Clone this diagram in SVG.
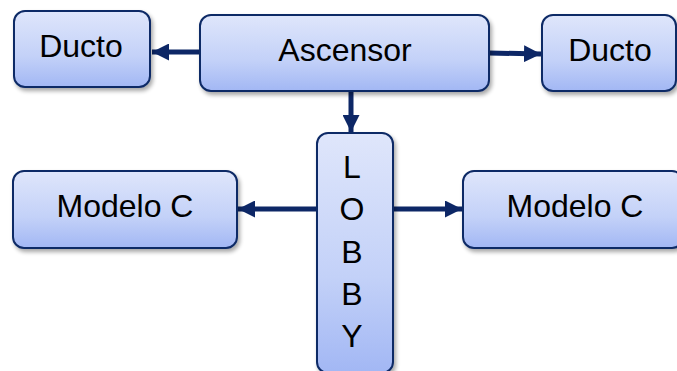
<svg xmlns="http://www.w3.org/2000/svg" width="677" height="371" viewBox="0 0 677 371">
  <defs>
    <linearGradient id="boxFill" x1="0" y1="0" x2="0" y2="1">
      <stop offset="0" stop-color="#dfe6fb"/>
      <stop offset="0.6" stop-color="#c3d1f8"/>
      <stop offset="1" stop-color="#a2b7f4"/>
    </linearGradient>
    <filter id="shadow" x="-10%" y="-10%" width="130%" height="130%">
      <feGaussianBlur in="SourceAlpha" stdDeviation="2"/>
      <feOffset dx="2" dy="3" result="b"/>
      <feComponentTransfer><feFuncA type="linear" slope="0.35"/></feComponentTransfer>
      <feMerge><feMergeNode/><feMergeNode in="SourceGraphic"/></feMerge>
    </filter>
    <marker id="arrow" viewBox="0 0 10 10" refX="10" refY="5" markerWidth="3.4" markerHeight="3.4" markerUnits="strokeWidth" orient="auto">
      <path d="M0,0 L10,5 L0,10 z" fill="#0d2766"/>
    </marker>
  </defs>
  <style>
    .box { fill: url(#boxFill); stroke: #0f2a66; stroke-width: 2; filter: url(#shadow); }
    .lbl { font-family: "Liberation Sans", Arial, sans-serif; font-size: 32px; fill: #000; text-anchor: middle; }
    .conn { stroke: #0d2766; stroke-width: 5; fill: none; marker-end: url(#arrow); }
  </style>

  <g id="connectors">
    <line class="conn" x1="199" y1="52" x2="152" y2="52"/>
    <line class="conn" x1="489" y1="53" x2="541" y2="54"/>
    <line class="conn" x1="351" y1="91" x2="351" y2="132"/>
    <line class="conn" x1="317" y1="209" x2="238" y2="209"/>
    <line class="conn" x1="393" y1="209" x2="462" y2="209"/>
  </g>

  <g id="ducto-left">
    <rect class="box" x="14" y="11" width="136" height="76" rx="11"/>
    <text class="lbl" x="81" y="57">Ducto</text>
  </g>

  <g id="ascensor">
    <rect class="box" x="200" y="15" width="289" height="76" rx="11"/>
    <text class="lbl" x="345" y="61">Ascensor</text>
  </g>

  <g id="ducto-right">
    <rect class="box" x="542" y="15" width="134" height="76" rx="11"/>
    <text class="lbl" x="610" y="61">Ducto</text>
  </g>

  <g id="modelo-c-left">
    <rect class="box" x="13" y="171" width="224" height="77" rx="11"/>
    <text class="lbl" x="125" y="217">Modelo C</text>
  </g>

  <g id="modelo-c-right">
    <rect class="box" x="463" y="171" width="220" height="77" rx="11"/>
    <text class="lbl" x="575" y="217">Modelo C</text>
  </g>

  <g id="lobby">
    <rect class="box" x="317" y="133" width="76" height="240" rx="11"/>
    <text class="lbl" x="352" y="178">L</text>
    <text class="lbl" x="352" y="220">O</text>
    <text class="lbl" x="352" y="263">B</text>
    <text class="lbl" x="352" y="305">B</text>
    <text class="lbl" x="352" y="347">Y</text>
  </g>
</svg>
